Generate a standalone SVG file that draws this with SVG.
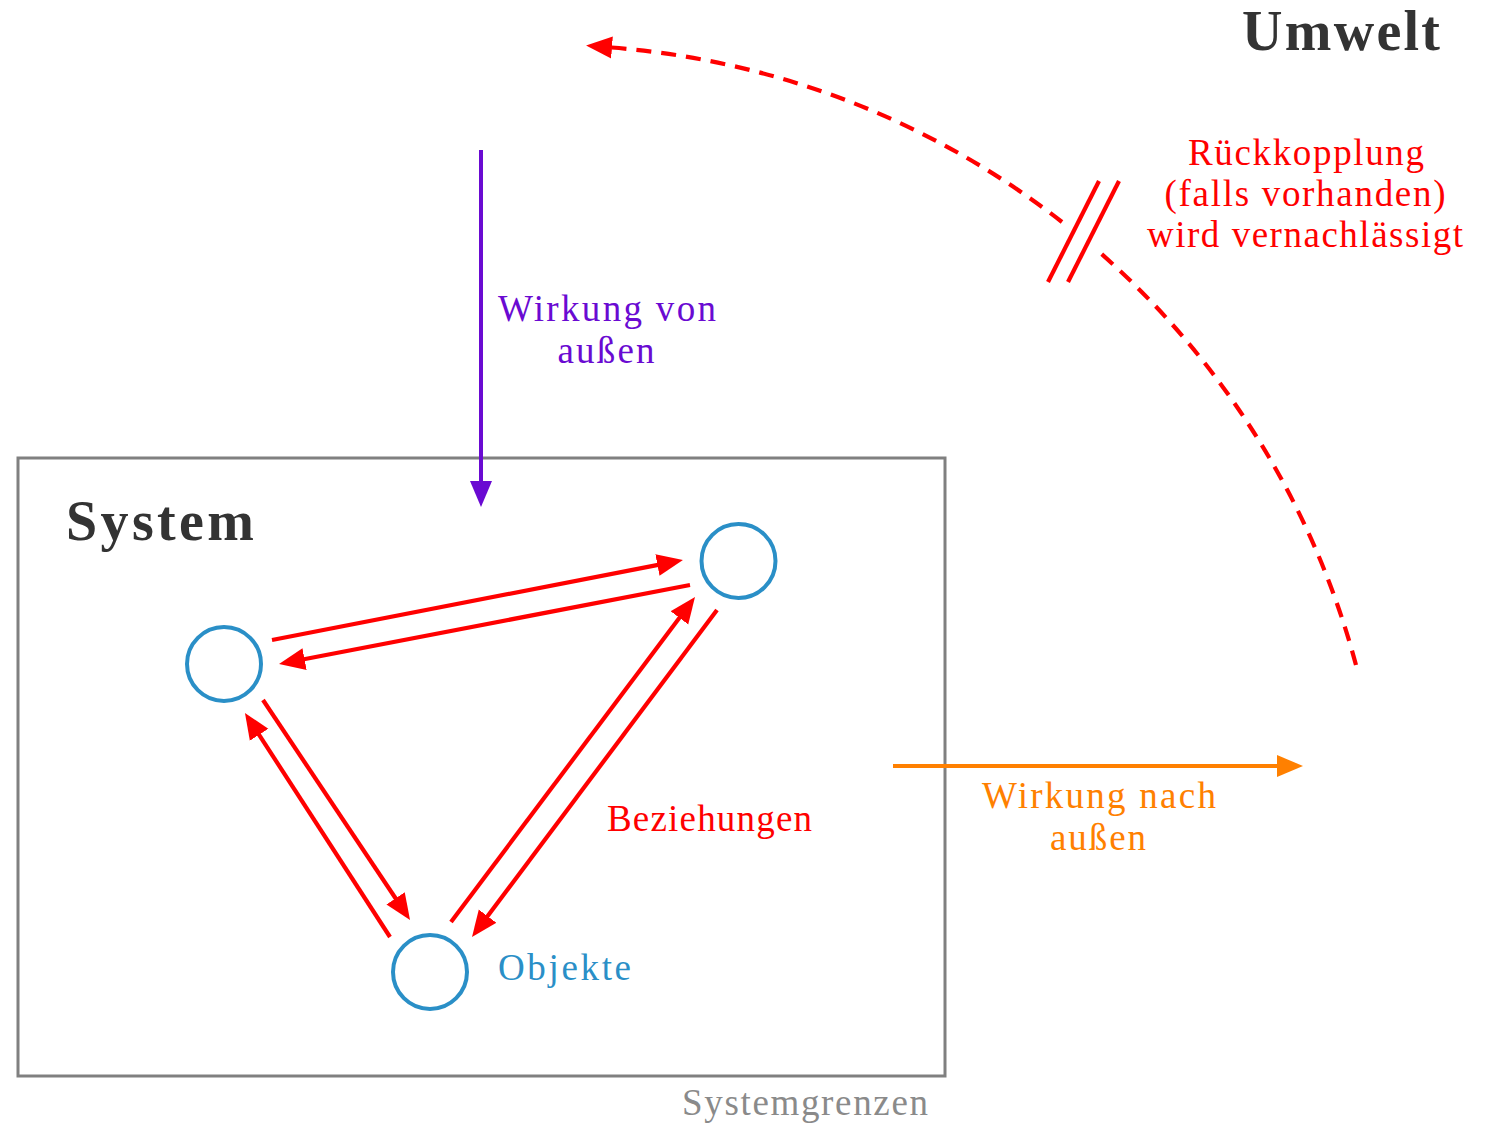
<svg xmlns="http://www.w3.org/2000/svg" width="1488" height="1124" viewBox="0 0 1488 1124">
  <style>
    text { font-family: "Liberation Serif", "Times New Roman", serif; }
    .title { font-weight: bold; font-size: 56px; fill: #333333; }
    .lbl { font-size: 37px; }
    .red { fill: #ff0000; }
    .purple { fill: #6a0ad2; }
    .orange { fill: #ff8000; }
    .blue { fill: #2a8fc7; }
    .gray { fill: #8a8a8a; }
    .obj { fill: none; stroke: #2a8fc7; stroke-width: 4; }
    .rel { fill: none; stroke: #ff0000; stroke-width: 4.2; marker-end: url(#headRed); }
  </style>
  <defs>
    <marker id="headRed" markerUnits="userSpaceOnUse" markerWidth="28" markerHeight="24" refX="2" refY="11" orient="auto" viewBox="0 0 28 22">
      <path d="M0,0 L26,11 L0,22 z" fill="#ff0000"/>
    </marker>
    <marker id="headPurple" markerUnits="userSpaceOnUse" markerWidth="28" markerHeight="24" refX="2" refY="11" orient="auto" viewBox="0 0 28 22">
      <path d="M0,0 L26,11 L0,22 z" fill="#6a0ad2"/>
    </marker>
    <marker id="headOrange" markerUnits="userSpaceOnUse" markerWidth="28" markerHeight="24" refX="2" refY="11" orient="auto" viewBox="0 0 28 22">
      <path d="M0,0 L26,11 L0,22 z" fill="#ff8000"/>
    </marker>
  </defs>

  <rect width="1488" height="1124" fill="#ffffff"/>

  <!-- system boundary -->
  <g id="system">
    <rect x="18" y="458" width="927" height="618" fill="none" stroke="#808080" stroke-width="3"/>
    <text class="title" x="66" y="540" textLength="188">System</text>
    <text class="lbl gray" x="682" y="1115" textLength="246">Systemgrenzen</text>
  </g>

  <g id="umwelt">
    <text class="title" x="1242" y="50" textLength="198">Umwelt</text>
  </g>

  <!-- objects -->
  <g id="obj-left"><circle class="obj" cx="224" cy="664" r="37"/></g>
  <g id="obj-top"><circle class="obj" cx="738.5" cy="561" r="37"/></g>
  <g id="obj-bottom"><circle class="obj" cx="430" cy="972" r="37"/></g>
  <g id="label-objekte"><text class="lbl blue" x="498" y="980" textLength="133">Objekte</text></g>

  <!-- connectors -->
  <g id="connectors">
    <!-- relations between objects -->
    <path class="rel" d="M272,640 L659.4,564.6"/>
    <path class="rel" d="M690,585 L302.6,659.5"/>
    <path class="rel" d="M263,700 L396.7,900"/>
    <path class="rel" d="M390,937 L258,733.1"/>
    <path class="rel" d="M451,922 L680.6,616.2"/>
    <path class="rel" d="M717,610 L486.4,917.8"/>

    <!-- input from outside -->
    <path d="M481,150 L481,483" fill="none" stroke="#6a0ad2" stroke-width="4" marker-end="url(#headPurple)"/>

    <!-- output to outside -->
    <path d="M893,766 L1279,766" fill="none" stroke="#ff8000" stroke-width="4" marker-end="url(#headOrange)"/>

    <!-- feedback arc, interrupted -->
    <path d="M1356,665 A838,838 0 0 0 1097,250" fill="none" stroke="#ff0000" stroke-width="4.2" stroke-dasharray="15 10"/>
    <path d="M1062,222 A838,838 0 0 0 610,47.4" fill="none" stroke="#ff0000" stroke-width="4.2" stroke-dasharray="15 10" marker-end="url(#headRed)"/>
    <line x1="1099" y1="181" x2="1048" y2="282" stroke="#ff0000" stroke-width="4.2"/>
    <line x1="1119" y1="181" x2="1068" y2="282" stroke="#ff0000" stroke-width="4.2"/>
  </g>

  <!-- labels -->
  <g id="label-beziehungen"><text class="lbl red" x="607" y="831" textLength="205">Beziehungen</text></g>
  <g id="label-input">
    <text class="lbl purple" x="607" y="321" text-anchor="middle" textLength="218">Wirkung von</text>
    <text class="lbl purple" x="606" y="363" text-anchor="middle" textLength="97">außen</text>
  </g>
  <g id="label-output">
    <text class="lbl orange" x="1099" y="808" text-anchor="middle" textLength="234">Wirkung nach</text>
    <text class="lbl orange" x="1098" y="850" text-anchor="middle" textLength="96">außen</text>
  </g>
  <g id="label-feedback">
    <text class="lbl red" x="1306" y="165" text-anchor="middle" textLength="236">Rückkopplung</text>
    <text class="lbl red" x="1305" y="206" text-anchor="middle" textLength="281">(falls vorhanden)</text>
    <text class="lbl red" x="1305" y="247" text-anchor="middle" textLength="316">wird vernachlässigt</text>
  </g>
</svg>
